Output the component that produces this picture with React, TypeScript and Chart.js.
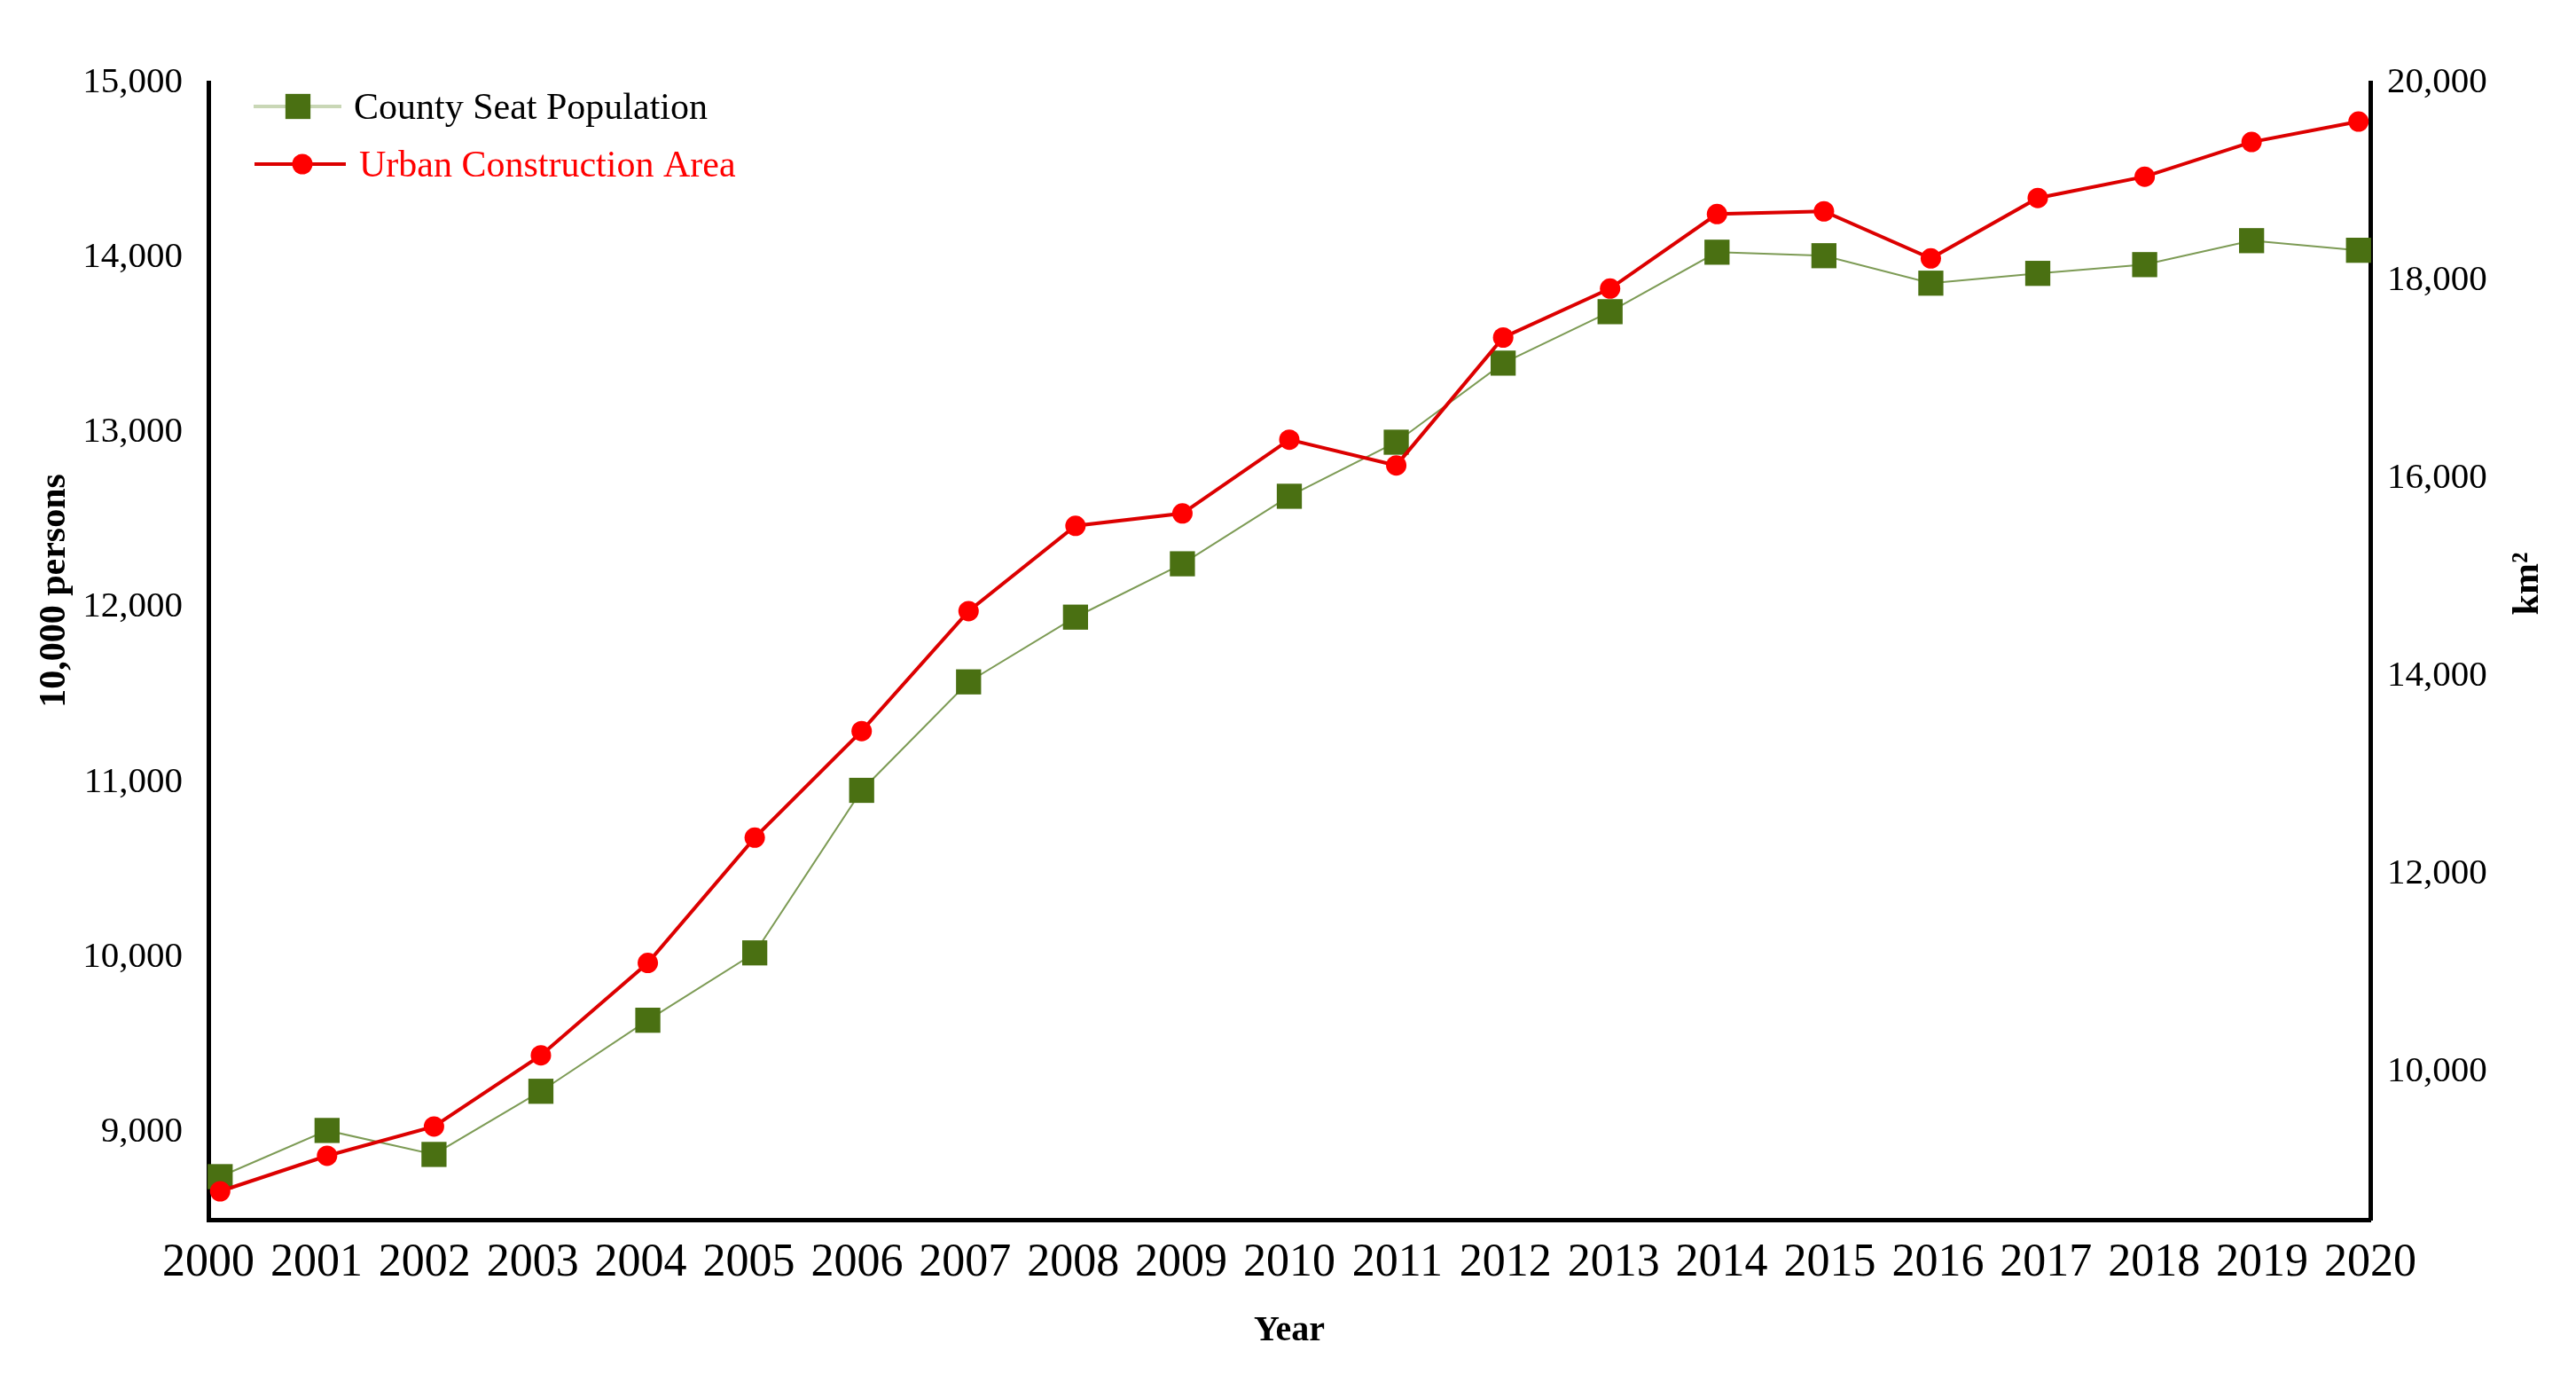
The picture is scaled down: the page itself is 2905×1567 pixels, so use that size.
import React, { useEffect, useRef } from "react";
import { Chart, registerables } from "chart.js";

Chart.register(...registerables);

const years = ["2000","2001","2002","2003","2004","2005","2006","2007","2008","2009","2010","2011","2012","2013","2014","2015","2016","2017","2018","2019","2020"];
const countySeatPopulation = [8746, 9010, 8873, 9234, 9640, 10025, 10954, 11574, 11944, 12249, 12635, 12944, 13396, 13690, 14030, 14010, 13853, 13909, 13959, 14096, 14041];
const urbanConstructionArea = [8787, 9146, 9443, 10162, 11096, 12363, 13441, 14654, 15517, 15642, 16388, 16128, 17421, 17916, 18670, 18697, 18221, 18832, 19048, 19398, 19605];

const leftTicks = [9000, 10000, 11000, 12000, 13000, 14000, 15000];
const rightTicks = [10000, 12000, 14000, 16000, 18000, 20000];

const seriesLabels = ["County Seat Population", "Urban Construction Area"];
const leftAxisTitle = "10,000 persons";
const rightAxisTitle = "km\u00B2";
const xAxisTitle = "Year";

const W = 2905;
const H = 1567;
const FONT = '"Liberation Serif", "Times New Roman", serif';

const overlayPlugin = {
  id: "overlay",
  afterDraw(chart: any) {
    const ctx = chart.ctx;
    ctx.save();
    ctx.fillStyle = "#000";
    ctx.textAlign = "center";
    ctx.textBaseline = "middle";
    ctx.font = `bold 42px ${FONT}`;
    ctx.save();
    ctx.translate(62, 666);
    ctx.rotate(-Math.PI / 2);
    ctx.fillText(leftAxisTitle, 0, 0);
    ctx.restore();
    ctx.save();
    ctx.translate(2851, 658);
    ctx.rotate(-Math.PI / 2);
    ctx.fillText(rightAxisTitle, 0, 0);
    ctx.restore();

    const ds = chart.data.datasets;
    const rows = [
      { y: 120, lineX0: 286, lineX1: 385, mx: 336, tx: 399, textColor: "#000" },
      { y: 185, lineX0: 287, lineX1: 390, mx: 341, tx: 405, textColor: "#ff0000" },
    ];
    ds.forEach((d: any, i: number) => {
      const r = rows[i];
      if (!r) return;
      ctx.strokeStyle = i === 0 ? "#c9d7b6" : d.borderColor;
      ctx.lineWidth = i === 0 ? 4 : d.borderWidth;
      ctx.beginPath();
      ctx.moveTo(r.lineX0, r.y);
      ctx.lineTo(r.lineX1, r.y);
      ctx.stroke();
      ctx.fillStyle = d.pointBackgroundColor;
      if (d.pointStyle === "rect") {
        const s = Math.SQRT1_2 * d.pointRadius;
        ctx.fillRect(r.mx - s, r.y - s, 2 * s, 2 * s);
      } else {
        ctx.beginPath();
        ctx.arc(r.mx, r.y, d.pointRadius, 0, Math.PI * 2);
        ctx.fill();
      }
      ctx.fillStyle = r.textColor;
      ctx.textAlign = "left";
      ctx.textBaseline = "middle";
      ctx.font = `42px ${FONT}`;
      ctx.fillText(d.label, r.tx, r.y + 3);
    });
    ctx.restore();
  },
};

export default function App() {
  const ref = useRef<HTMLCanvasElement | null>(null);

  useEffect(() => {
    document.body.style.margin = "0";
    document.body.style.overflow = "hidden";
    const canvas = ref.current;
    if (!canvas) return;
    Chart.defaults.font.family = FONT;
    Chart.defaults.color = "#000";

    const chart = new Chart(canvas, {
      type: "line",
      data: {
        labels: years,
        datasets: [
          {
            label: seriesLabels[0],
            data: countySeatPopulation,
            yAxisID: "y",
            xAxisID: "xd",
            borderColor: "#7d9b55",
            borderWidth: 2,
            pointStyle: "rect",
            pointRadius: 20,
            pointHoverRadius: 20,
            pointBackgroundColor: "#4a7012",
            pointBorderColor: "#4a7012",
            pointBorderWidth: 0,
            tension: 0,
            order: 2,
            clip: false,
          },
          {
            label: seriesLabels[1],
            data: urbanConstructionArea,
            yAxisID: "y1",
            xAxisID: "xd",
            borderColor: "#dc0000",
            borderWidth: 4,
            pointStyle: "circle",
            pointRadius: 11.5,
            pointHoverRadius: 11.5,
            pointBackgroundColor: "#ff0000",
            pointBorderColor: "#ff0000",
            pointBorderWidth: 0,
            tension: 0,
            order: 1,
            clip: false,
          },
        ],
      },
      options: {
        animation: false,
        responsive: false,
        maintainAspectRatio: false,
        devicePixelRatio: 1,
        layout: { padding: { top: 93, left: 0, right: 0, bottom: 0 } },
        plugins: {
          legend: { display: false },
          tooltip: { enabled: false },
        },
        scales: {
          x: {
            type: "category",
            position: "bottom",
            offset: false,
            grid: { display: false, drawTicks: false },
            border: { display: true, color: "#000", width: 5 },
            ticks: {
              font: { size: 52 },
              color: "#000",
              padding: 18,
              autoSkip: false,
              maxRotation: 0,
              minRotation: 0,
            },
            title: {
              display: true,
              text: xAxisTitle,
              font: { size: 40, weight: "bold" },
              color: "#000",
              padding: { top: 0, bottom: 42 },
            },
            afterFit: (s: any) => { s.height = 192; },
          },
          xd: {
            type: "linear",
            display: false,
            min: 1999.89,
            max: 2020.11,
          },
          y: {
            type: "linear",
            position: "left",
            min: 8500,
            max: 15000,
            grid: { display: false, drawTicks: false },
            border: { display: true, color: "#000", width: 5 },
            ticks: {
              autoSkip: false,
              font: { size: 41 },
              color: "#000",
              padding: 29,
              callback: (v: any) => Number(v).toLocaleString("en-US"),
            },
            afterBuildTicks: (s: any) => { s.ticks = leftTicks.map((v) => ({ value: v })); },
            afterFit: (s: any) => { s.width = 235; },
          },
          y1: {
            type: "linear",
            position: "right",
            min: 8500,
            max: 20000,
            grid: { display: false, drawTicks: false },
            border: { display: true, color: "#000", width: 5 },
            ticks: {
              autoSkip: false,
              font: { size: 41 },
              color: "#000",
              padding: 19,
              callback: (v: any) => Number(v).toLocaleString("en-US"),
            },
            afterBuildTicks: (s: any) => { s.ticks = rightTicks.map((v) => ({ value: v })); },
            afterFit: (s: any) => { s.width = W - 2673; },
          },
        },
      } as any,
      plugins: [overlayPlugin],
    });
    return () => chart.destroy();
  }, []);

  return (
    <div style={{ width: W, height: H, background: "#fff" }}>
      <canvas ref={ref} width={W} height={H} style={{ display: "block", width: W, height: H }} />
    </div>
  );
}
